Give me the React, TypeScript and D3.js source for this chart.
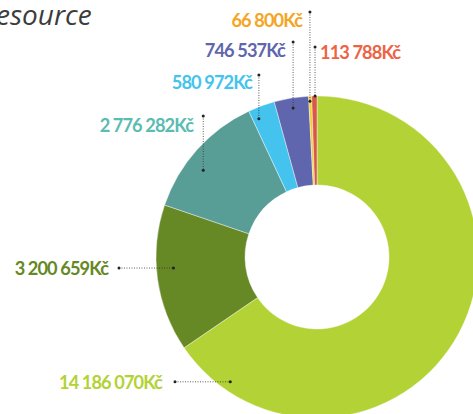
import React from "react";
import * as d3 from "d3";

const categories = ["a", "b", "c", "d", "e", "f", "g"];
const values = [14186070, 3200659, 2776282, 580972, 746537, 66800, 113788];
const labels = ["14 186 070Kč", "3 200 659Kč", "2 776 282Kč", "580 972Kč", "746 537Kč", "66 800Kč", "113 788Kč"];
const sliceColors = ["#b3d235", "#668825", "#599e96", "#45c3ef", "#5f66ae", "#f2cf30", "#d9574a"];
const labelColors = ["#b3d235", "#668825", "#5bbcb2", "#45c3ef", "#5f66ae", "#f5a524", "#ee6344"];

// layout: pointer angle (deg, clockwise from top), pointer radius, leader type, leader start, text pos
const layout = [
  { ang: 214.8, r: 152, kind: "h", start: 175, tx: 162, ty: 382, anchor: "end" },
  { ang: 265.6, r: 144, kind: "h", start: 119, tx: 108, ty: 268, anchor: "end" },
  { ang: 307.3, r: 143, kind: "v", start: 116, tx: 193, ty: 125, anchor: "end" },
  { ang: 337.2, r: 150, kind: "v", start: 75, tx: 252, ty: 82, anchor: "end" },
  { ang: 350.9, r: 151, kind: "v", start: 42, tx: 285, ty: 50, anchor: "end" },
  { ang: 357.4, r: 156, kind: "v", start: 12, tx: 302, ty: 20, anchor: "end" },
  { ang: 359.3, r: 161, kind: "v", start: 47, tx: 320, ty: 52, anchor: "start" },
];

const W = 473, H = 414;
const cx = 317, cy = 257, outerR = 161, innerR = 72;

export default function App() {
  const pie = d3.pie<number>().sort(null).startAngle(0).endAngle(2 * Math.PI);
  const arcs = pie(values);
  const arc = d3.arc<d3.PieArcDatum<number>>().innerRadius(innerR).outerRadius(outerR);
  return (
    <svg width={W} height={H} style={{ position: "absolute", left: 0, top: 0, background: "#fff" }}>
      <text x={-4} y={25} fontFamily="'Open Sans', sans-serif" fontStyle="italic" fontSize={28} fill="#3c3c3c">esource</text>
      <g transform={`translate(${cx},${cy})`}>
        {arcs.map((a, i) => (
          <path key={categories[i]} d={arc(a) || ""} fill={sliceColors[i]} stroke="#fff" strokeWidth={0.4} />
        ))}
      </g>
      {layout.map((l, i) => {
        const rad = (l.ang * Math.PI) / 180;
        const px = cx + l.r * Math.sin(rad);
        const py = cy - l.r * Math.cos(rad);
        const x1 = l.kind === "h" ? l.start : px;
        const y1 = l.kind === "h" ? py : l.start;
        return (
          <g key={"l" + i}>
            <line x1={x1} y1={y1} x2={px} y2={py} stroke="#333" strokeWidth={0.8} strokeDasharray="1,1.5" />
            <circle cx={x1} cy={y1} r={1.5} fill="#222" />
            <circle cx={px} cy={py} r={1.5} fill="#222" />
            <text x={l.tx} y={l.ty} dy="0.36em" textAnchor={l.anchor as any} fontFamily="Lato, sans-serif" fontWeight={700} fontSize={18.2} letterSpacing={-0.9} fill={labelColors[i]}>{labels[i]}</text>
          </g>
        );
      })}
    </svg>
  );
}
